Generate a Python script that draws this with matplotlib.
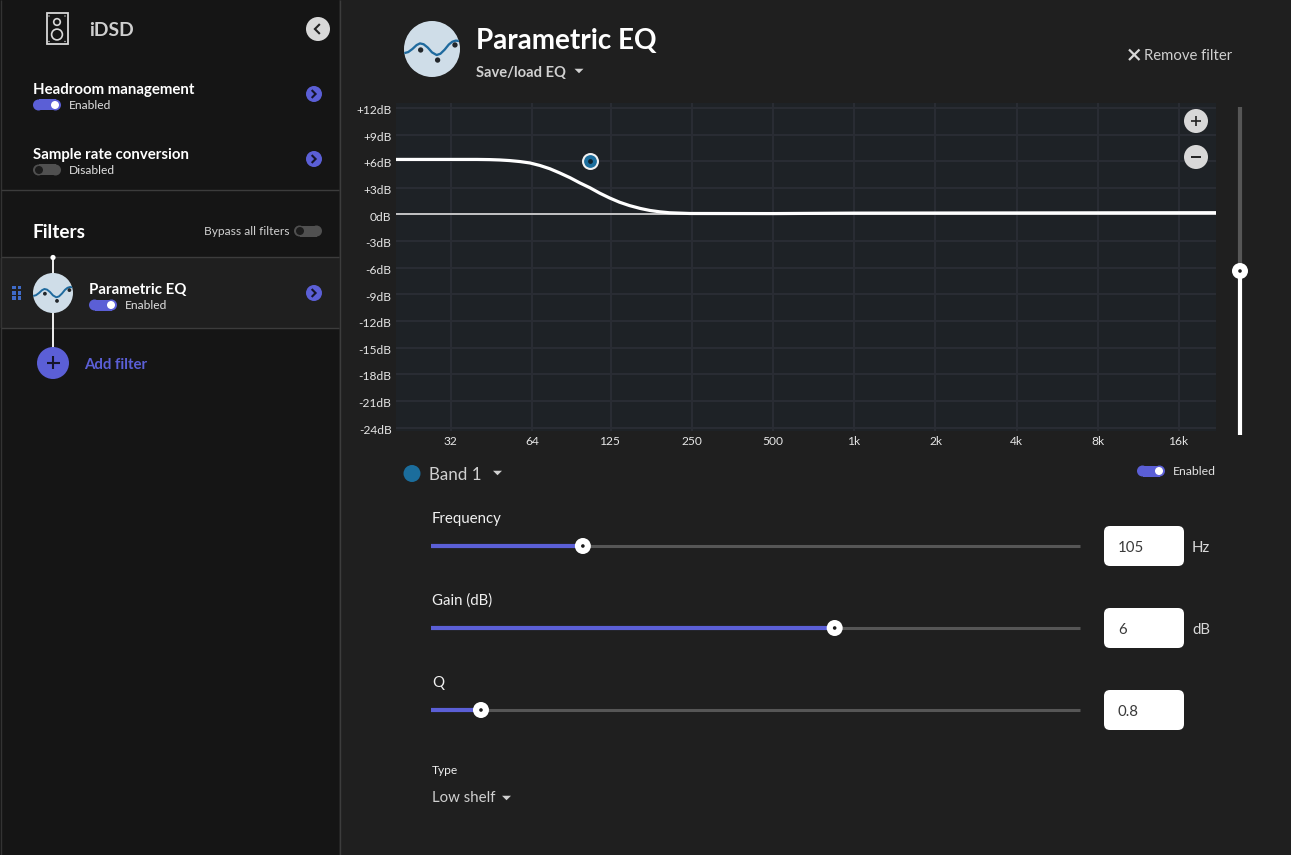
import matplotlib

matplotlib.use("Agg")
import matplotlib.pyplot as plt
from matplotlib.patches import Circle, FancyBboxPatch, Rectangle, Polygon
from matplotlib.transforms import ScaledTranslation

plt.rcParams.update({
    "font.family": ["Lato", "DejaVu Sans"],
    "font.size": 10,
})

# curve of the filter
curve_freq = [20, 32, 40, 44.6, 48.6, 52.9, 57.7, 62.9, 68.4, 74.5, 81, 88.5, 96, 105, 114, 124, 135,
              147, 161, 175, 190, 207, 246, 500, 1000, 4000, 22000]
curve_db = [6.2, 6.2, 6.2, 6.18, 6.14, 6.07, 5.96, 5.8, 5.52, 5.15, 4.68, 4.14, 3.57, 3.0, 2.4, 1.86, 1.38,
            1.0, 0.68, 0.45, 0.3, 0.19, 0.11, 0.1, 0.15, 0.17, 0.2]
band_freq = [105]
band_gain = [6]

freq_ticks = [32, 64, 125, 250, 500, 1000, 2000, 4000, 8000, 16000]
freq_labels = ["32", "64", "125", "250", "500", "1k", "2k", "4k", "8k", "16k"]
db_ticks = [12, 9, 6, 3, 0, -3, -6, -9, -12, -15, -18, -21, -24]
db_labels = ["+12dB", "+9dB", "+6dB", "+3dB", "0dB", "-3dB", "-6dB", "-9dB", "-12dB", "-15dB",
             "-18dB", "-21dB", "-24dB"]

slider_names = ["Frequency", "Gain (dB)", "Q"]
slider_fracs = [0.234, 0.622, 0.077]
slider_values = ["105", "6", "0.8"]
slider_units = ["Hz", "dB", ""]

W, H = 1291, 855
BG = "#1f1f1f"
SIDE = "#151515"
ACCENT = "#5b5fd6"
LINE = "#3c3c3c"
LIGHT = "#d8d8d8"


def px(size):
    return size * 0.72


fig = plt.figure(figsize=(W / 100, H / 100), dpi=100, facecolor=BG)

# chart, placed by pixel box
L, R, T, B = 396, 1216, 103.5, 431.5
ax = fig.add_axes([L / W, 1 - B / H, (R - L) / W, (B - T) / H], facecolor="#1e2226")
ax.set_xscale("log", base=2)
ax.set_xlim(20.05, 21900)
ax.set_ylim(-24.45, 12.5)
ax.set_xticks(freq_ticks, freq_labels, fontsize=px(12), color="#e6e6e6")
ax.set_yticks(db_ticks, db_labels, fontsize=px(12), color="#e6e6e6")
ax.minorticks_off()
ax.tick_params(length=0, axis="x", pad=3.0)
ax.tick_params(length=0, axis="y", pad=3.2)
ax.grid(True, color="#2a2d34", linewidth=1.4)
ax.set_axisbelow(True)
for s in ax.spines.values():
    s.set_visible(False)
for lab in ax.get_yticklabels():
    lab.set_transform(lab.get_transform() + ScaledTranslation(0, -1.2 / 72, fig.dpi_scale_trans))
ax.axhline(0, color="#c4c4c4", linewidth=1.4, zorder=2)
ax.plot(curve_freq, curve_db, color="white", linewidth=2.3, solid_capstyle="butt", zorder=3)
ax.scatter(band_freq, band_gain, s=115, color="#1b6d9c", edgecolor="#f0f0f0", linewidth=1.5, zorder=4)
ax.scatter(band_freq, band_gain, s=6, color="#10222e", zorder=5)

# everything else sits on a transparent pixel layer
ui = fig.add_axes([0, 0, 1, 1], zorder=5)
ui.set_xlim(0, W)
ui.set_ylim(H, 0)
ui.axis("off")


def text(x, y, s, size=14, color="white", weight="normal", **kw):
    kw.setdefault("va", "center")
    # lato sits a bit high with va=center, more so at the larger sizes
    nudge = 1.9 if size >= 14 else 0.9
    ui.text(x, y + nudge, s, fontsize=px(size), color=color, fontweight=weight, **kw)


def circle(x, y, r, color, z=3, **kw):
    ui.add_patch(Circle((x, y), r, facecolor=color, edgecolor="none", zorder=z, **kw))


def hline(x0, x1, y, color, lw=1.0, z=2):
    ui.plot([x0, x1], [y, y], color=color, linewidth=lw, zorder=z, solid_capstyle="butt")


def vline(x, y0, y1, color, lw=1.0, z=2):
    ui.plot([x, x], [y0, y1], color=color, linewidth=lw, zorder=z, solid_capstyle="butt")


def toggle(x, y, on=True):
    track = ACCENT if on else "#505050"
    ui.add_patch(Rectangle((x + 5.5, y - 5.5), 17, 11, facecolor=track, edgecolor="none", zorder=3))
    circle(x + 5.5, y, 5.5, track)
    circle(x + 22.5, y, 5.5, track)
    if on:
        circle(x + 22, y, 4, "white", z=4)
    else:
        circle(x + 6, y, 4, "#1c1c1c", z=4)


def chevron(x, y, size, color, lw=1.6, left=False):
    d = -size if left else size
    ui.plot([x - d / 2, x + d / 2, x - d / 2], [y - size, y, y + size], color=color, linewidth=lw,
            zorder=5, solid_joinstyle="miter")


def next_button(x, y):
    circle(x, y, 8, ACCENT)
    chevron(x, y, 3.2, "#15152a", lw=1.5)


def caret(x, y, color="#d0d0d0", w=4.5, h=4.5):
    ui.add_patch(Polygon([(x - w, y - h / 2), (x + w, y - h / 2), (x, y + h / 2)], closed=True,
                         facecolor=color, edgecolor="none", zorder=4))


def eq_icon(cx, cy, r):
    c = Circle((cx, cy), r, facecolor="#cfdde8", edgecolor="none", zorder=4)
    ui.add_patch(c)
    k = r / 20.0
    wx = [-20, -17, -14, -11, -8.6, -6, -3, 0, 3.3, 6, 9, 12, 14.5, 17, 20]
    wy = [3, 2.2, 0, -2.8, -4, -3.4, -1, 2.4, 4.3, 3.4, 0.5, -3.2, -5.2, -6, -5.6]
    line, = ui.plot([cx + a * k for a in wx], [cy + b * k for b in wy], color="#1f6a9e",
                    linewidth=1.4 * k ** 0.5, zorder=5, solid_joinstyle="round")
    line.set_clip_path(c)
    for a, b in [(-8.1, 0.7), (4, 7.9), (16.4, -2.9)]:
        circle(cx + a * k, cy + b * k, 1.9 * k, "#22262a", z=6)


# sidebar
ui.add_patch(Rectangle((0, 0), 339, H, facecolor=SIDE, edgecolor="none", zorder=1))
ui.add_patch(Rectangle((0, 258), 339, 70, facecolor="#1f1f1f", edgecolor="none", zorder=1))
vline(0.5, 0, H, "#333333", 1.0)
vline(339.5, 0, H, LINE, 1.0)
hline(1, 339, 190.5, LINE)
hline(1, 339, 257.5, LINE)
hline(1, 339, 328.5, LINE)

# speaker icon
ui.add_patch(Rectangle((46.5, 13.5), 21, 30.5, facecolor="none", edgecolor=LIGHT, linewidth=1.3, zorder=3))
ui.add_patch(Circle((57, 22), 3.3, facecolor="none", edgecolor=LIGHT, linewidth=1.2, zorder=3))
ui.add_patch(Circle((57, 34.5), 5.4, facecolor="none", edgecolor=LIGHT, linewidth=1.2, zorder=3))
for cx, cy in [(49, 16), (65, 16), (49, 41.5), (65, 41.5)]:
    circle(cx, cy, 0.7, LIGHT)
text(89, 28.5, "iDSD", 19.4, "#cfcfcf", "bold")
circle(318, 29, 12, LIGHT)
chevron(317, 29, 4.2, "#222222", lw=1.5, left=True)

text(33, 88, "Headroom management", 15, "white", "bold")
toggle(33, 105, True)
text(69, 104.5, "Enabled", 12, "#e0e0e0")
next_button(314, 94)

text(33, 153.5, "Sample rate conversion", 15, "white", "bold")
toggle(33, 170, False)
text(69, 169.5, "Disabled", 12, "#e0e0e0")
next_button(314, 159)

text(33, 230.5, "Filters", 19, "white", "bold")
text(289, 230.5, "Bypass all filters", 12, "#d0d0d0", ha="right")
toggle(294, 231, False)

vline(53, 257, 350, "white", 1.3)
circle(53, 257.5, 2.6, "white")
eq_icon(53, 293, 20)
for dx in (14, 19.5):
    for dy in (287.5, 293, 298):
        ui.add_patch(Rectangle((dx - 1.6, dy - 1.6), 3.2, 3.2, facecolor="#3f6bc8", edgecolor="none", zorder=3))
text(89, 288, "Parametric EQ", 15, "white", "bold")
toggle(89, 305, True)
text(125, 304.5, "Enabled", 12, "#e0e0e0")
next_button(314, 293)

circle(53, 363, 16, ACCENT)
hline(46.5, 59.5, 363, "#15152a", 1.5, z=5)
vline(53, 356.5, 369.5, "#15152a", 1.5, z=5)
text(84.5, 363.5, "Add filter", 15, ACCENT, "bold")

# header of the main panel
eq_icon(432, 49, 28)
text(476, 39, "Parametric EQ", 27.9, "white", "bold")
text(476, 71.5, "Save/load EQ", 14.7, "#d0d0d0", "bold")
caret(579, 71)
ui.plot([1129, 1139.5], [49.5, 60], color=LIGHT, linewidth=1.6, zorder=4, solid_capstyle="butt")
ui.plot([1129, 1139.5], [60, 49.5], color=LIGHT, linewidth=1.6, zorder=4, solid_capstyle="butt")
text(1144, 54.5, "Remove filter", 14.9, "#cfcfcf")

# zoom buttons and master gain slider
circle(1196, 121, 12, LIGHT)
hline(1191, 1201, 121, "#222222", 1.2, z=5)
vline(1196, 116, 126, "#222222", 1.2, z=5)
circle(1196, 157, 12, LIGHT)
hline(1191, 1201, 157, "#222222", 1.4, z=5)

vline(1240, 107, 271, "#565656", 3.0)
vline(1240, 271, 435, "white", 3.0)
circle(1240, 271, 8, "white", z=4)
circle(1240, 271, 1.8, "#1a1a1a", z=5)

# band section
circle(412, 473.5, 8.5, "#1b6d9c")
text(429, 473.5, "Band 1", 17, "#cfcfcf")
caret(497.5, 473)
toggle(1137, 471, True)
text(1173, 470.5, "Enabled", 12.2, "#e0e0e0")

track_x0, track_x1 = 431, 1080
rows = [(517, 546), (599, 628), (681, 710)]
for i, (label_y, y) in enumerate(rows):
    text(432, label_y, slider_names[i], 15, "#f0f0f0")
    xv = track_x0 + slider_fracs[i] * (track_x1 - track_x0)
    hline(track_x0, track_x1, y + 0.3, "#565656", 2.2)
    hline(track_x0, xv, y, ACCENT, 3.0, z=3)
    circle(xv, y, 8, "white", z=4)
    circle(xv, y, 1.8, "#1a1a1a", z=5)
    ui.add_patch(FancyBboxPatch((1104, y - 20), 80, 40, boxstyle="round,pad=0,rounding_size=6",
                                facecolor="white", edgecolor="none", zorder=3))
    text(1118, y, slider_values[i], 15, "#3a3a3a", zorder=4)
    if slider_units[i]:
        text(1192, y, slider_units[i], 15, "#d8d8d8")

text(432, 769.5, "Type", 12, "#f0f0f0")
text(432, 796.5, "Low shelf", 15, "#cfcfcf")
caret(506.5, 798)

fig.savefig("out.png", dpi=100, facecolor=BG)
